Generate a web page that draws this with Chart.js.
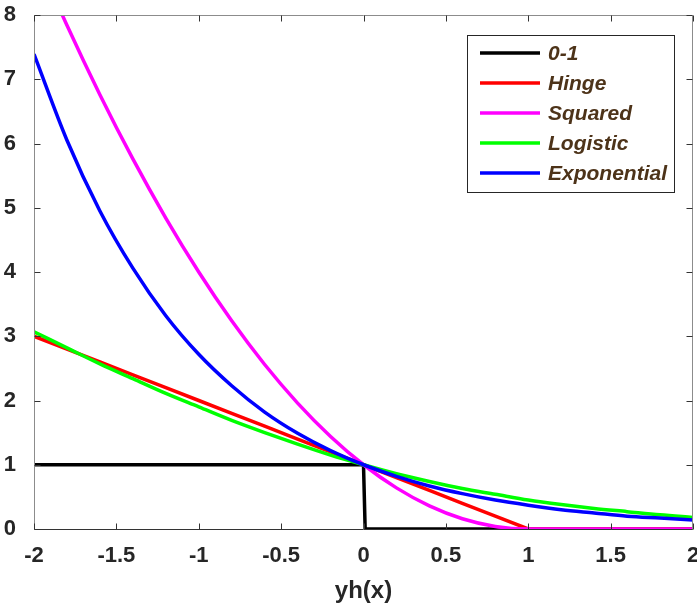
<!DOCTYPE html>
<html>
<head>
<meta charset="utf-8">
<script src="https://cdn.jsdelivr.net/npm/chart.js@4"></script>
<style>
  body { margin: 0; background: #fff; }
  #wrap { width: 697px; height: 610px; }
</style>
</head>
<body>
<div id="wrap"><canvas id="graph"></canvas></div>
<script>
// margin values
const xs = [-2, -1.8, -1.6, -1.4, -1.2, -1, -0.8, -0.6, -0.4, -0.2, 0, 0.2, 0.4, 0.6, 0.8, 1, 1.2, 1.4, 1.6, 1.8, 2];
const zeroOneX = [-2, 0, 0.01, 2];
const zeroOne = [1, 1, 0, 0];
const hinge = [3, 2.8, 2.6, 2.4, 2.2, 2, 1.8, 1.6, 1.4, 1.2, 1, 0.8, 0.6, 0.4, 0.2, 0, 0, 0, 0, 0, 0];
const squared = [9, 7.84, 6.76, 5.76, 4.84, 4, 3.24, 2.56, 1.96, 1.44, 1, 0.64, 0.36, 0.16, 0.04, 0, 0, 0, 0, 0, 0];
const logistic = [3.07, 2.82, 2.57, 2.34, 2.11, 1.9, 1.69, 1.5, 1.32, 1.15, 1, 0.86, 0.74, 0.63, 0.54, 0.45, 0.38, 0.32, 0.27, 0.22, 0.18];
const exponential = [7.39, 6.05, 4.95, 4.06, 3.32, 2.72, 2.23, 1.82, 1.49, 1.22, 1, 0.82, 0.67, 0.55, 0.45, 0.37, 0.3, 0.25, 0.2, 0.17, 0.14];
const seriesNames = ["0-1", "Hinge", "Squared", "Logistic", "Exponential"];
const seriesColors = ["#000000", "#ff0000", "#ff00ff", "#00ff00", "#0000ff"];
const smoothSeries = [false, false, true, true, true];
const xTicks = [-2, -1.5, -1, -0.5, 0, 0.5, 1, 1.5, 2];
const yTicks = [0, 1, 2, 3, 4, 5, 6, 7, 8];

const pts = (xv, yv) => xv.map((x, i) => ({ x: x, y: yv[i] }));
const curves = [pts(zeroOneX, zeroOne), pts(xs, hinge), pts(xs, squared), pts(xs, logistic), pts(xs, exponential)];

const FONT = "'Liberation Sans', Arial, sans-serif";

// matlab-style box with ticks pointing inwards + legend box
const matlabFrame = {
    id: "matlabFrame",
    afterDatasetsDraw(chart) {
        const ctx = chart.ctx;
        const a = chart.chartArea;
        const sx = chart.scales.x, sy = chart.scales.y;
        const L = Math.round(a.left) + 0.5, R = Math.round(a.right) - 0.5;
        const T = Math.round(a.top) + 0.5, B = Math.round(a.bottom) + 0.5;
        ctx.save();
        ctx.lineWidth = 1;
        ctx.strokeStyle = "#8c8c8c";
        ctx.beginPath();
        ctx.moveTo(L, B); ctx.lineTo(L, T); ctx.lineTo(R, T); ctx.lineTo(R, B);
        ctx.stroke();
        ctx.strokeStyle = "#333333";
        ctx.beginPath();
        ctx.moveTo(L, B); ctx.lineTo(R, B);
        xTicks.forEach(t => {
            const px = Math.round(sx.getPixelForValue(t)) + 0.5;
            ctx.moveTo(px, B); ctx.lineTo(px, B - 6);
            ctx.moveTo(px, T); ctx.lineTo(px, T + 6);
        });
        yTicks.forEach(t => {
            const py = Math.round(sy.getPixelForValue(t)) + 0.5;
            ctx.moveTo(L, py); ctx.lineTo(L + 6, py);
            ctx.moveTo(R, py); ctx.lineTo(R - 6, py);
        });
        ctx.stroke();

        // legend
        const bx = a.right - 226, by = a.top + 20, bw = 207, bh = 157;
        ctx.fillStyle = "#ffffff";
        ctx.fillRect(bx, by, bw, bh);
        ctx.strokeStyle = "#262626";
        ctx.strokeRect(bx + 0.5, by + 0.5, bw, bh);
        ctx.font = "italic bold 21px " + FONT;
        ctx.textBaseline = "middle";
        ctx.textAlign = "left";
        chart.data.datasets.forEach((ds, i) => {
            const yy = by + 18 + i * 30;
            ctx.strokeStyle = ds.borderColor;
            ctx.lineWidth = 3.5;
            ctx.beginPath();
            ctx.moveTo(bx + 13, yy); ctx.lineTo(bx + 73, yy);
            ctx.stroke();
            ctx.fillStyle = "#4d3319";
            ctx.fillText(ds.label, bx + 81, yy + 1);
        });
        ctx.restore();
    }
};

const graph = document.getElementById("graph").getContext("2d");

let myChart = new Chart(graph, {
    type: "line",
    data: {
        datasets: seriesNames.map((name, i) => ({
            label: name,
            data: curves[i],
            borderColor: seriesColors[i],
            backgroundColor: seriesColors[i],
            borderWidth: 3.5,
            pointRadius: 0,
            order: seriesNames.length - i, // later series on top, like matlab
            cubicInterpolationMode: smoothSeries[i] ? "monotone" : "default",
            tension: 0,
            fill: false
        }))
    },
    options: {
        responsive: true,
        maintainAspectRatio: false,
        animation: false,
        events: [],
        layout: {
            padding: { left: 0, right: 4, top: 15, bottom: 0 }
        },
        plugins: {
            legend: { display: false },
            tooltip: { enabled: false }
        },
        scales: {
            x: {
                type: "linear",
                min: -2,
                max: 2,
                afterBuildTicks: s => { s.ticks = xTicks.map(v => ({ value: v })); },
                afterFit: s => { s.height = 81; s.paddingLeft = 0; s.paddingRight = 0; },
                grid: { display: false },
                border: { display: false },
                ticks: {
                    padding: 6,
                    color: "#262626",
                    font: { family: FONT, size: 22, weight: "bold" },
                    maxRotation: 0,
                    callback: v => String(v)
                },
                title: {
                    display: true,
                    text: "yh(x)",
                    color: "#262626",
                    padding: { top: 2 },
                    font: { family: FONT, size: 24, weight: "bold" }
                }
            },
            y: {
                min: 0,
                max: 8,
                afterBuildTicks: s => { s.ticks = yTicks.map(v => ({ value: v })); },
                afterFit: s => { s.width = 34; s.paddingTop = 0; s.paddingBottom = 0; },
                grid: { display: false },
                border: { display: false },
                ticks: {
                    padding: 10,
                    color: "#262626",
                    font: { family: FONT, size: 22, weight: "bold" }
                }
            }
        }
    },
    plugins: [matlabFrame]
});
</script>
</body>
</html>
